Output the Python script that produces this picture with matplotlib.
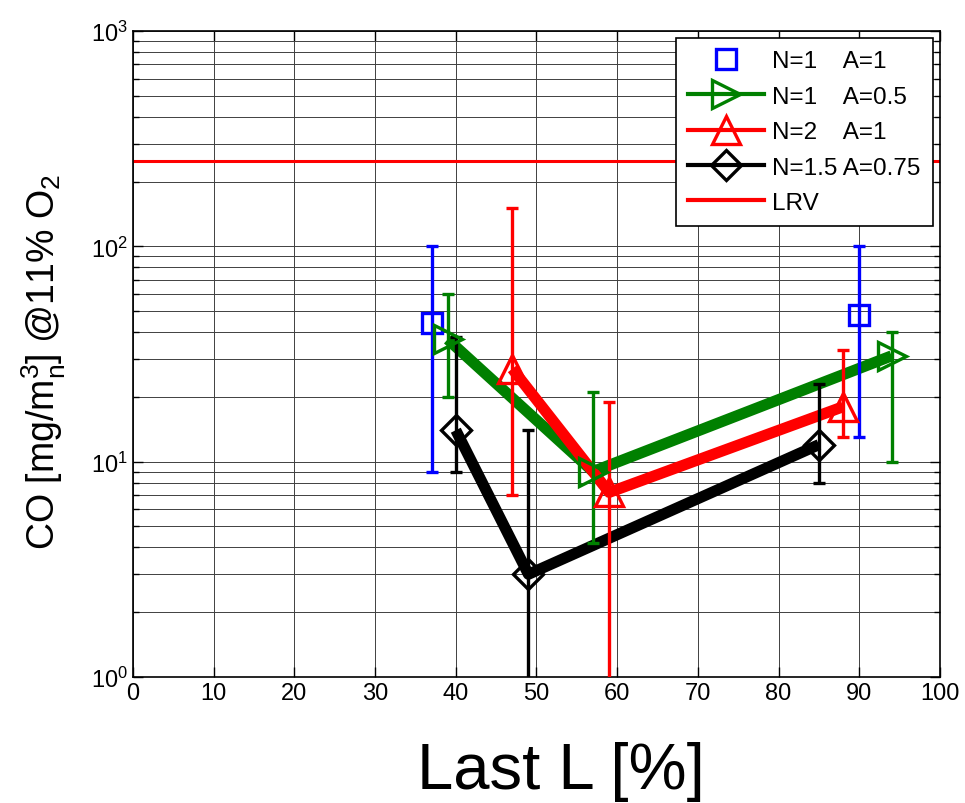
import matplotlib
matplotlib.use('Agg')
import matplotlib.pyplot as plt
from matplotlib.lines import Line2D
from matplotlib.ticker import LogLocator, NullFormatter

plt.rcParams['font.family'] = ['Liberation Sans', 'DejaVu Sans']
plt.rcParams['mathtext.fontset'] = 'custom'
plt.rcParams['mathtext.rm'] = 'Liberation Sans'
plt.rcParams['mathtext.it'] = 'Liberation Sans:italic'

# Messwerte: Last [%], CO-Mittelwert, untere/obere Grenze
n1a1_x = [37, 90]
n1a1_y = [44, 48]
n1a1_lo = [9, 13]
n1a1_hi = [100, 100]

n1a05_x = [39, 57, 94]
n1a05_y = [37, 9, 31]
n1a05_lo = [20, 4.2, 10]
n1a05_hi = [60, 21, 40]

n2a1_x = [47, 59, 88]
n2a1_y = [27, 7.2, 18]
n2a1_lo = [7, 0.5, 13]
n2a1_hi = [150, 19, 33]

n15a075_x = [40, 49, 85]
n15a075_y = [14, 3, 12]
n15a075_lo = [9, 0.5, 8]
n15a075_hi = [38, 14, 23]

lrv = 250
x_ticks = [0, 10, 20, 30, 40, 50, 60, 70, 80, 90, 100]

fig = plt.figure(figsize=(9.65, 8.04), dpi=100)
ax = fig.add_axes([0.1378, 0.1567, 0.8363, 0.8035])
ax.set_yscale('log')

def reihe(x, y, lo, hi, farbe, marker, ms, linie=True):
    if linie:
        ax.plot(x, y, '-', color=farbe, lw=8, zorder=3, solid_capstyle='butt')
    err = [[yy - l for yy, l in zip(y, lo)], [h - yy for yy, h in zip(y, hi)]]
    ax.errorbar(x, y, yerr=err, fmt='none', ecolor=farbe, elinewidth=2.4,
                capsize=4, capthick=2.4, zorder=4)
    ax.plot(x, y, linestyle='none', marker=marker, ms=ms, mfc='none',
            mec=farbe, mew=2.4, zorder=5)

reihe(n1a1_x, n1a1_y, n1a1_lo, n1a1_hi, 'blue', 's', 14, linie=False)
reihe(n1a05_x, n1a05_y, n1a05_lo, n1a05_hi, 'green', '>', 20)
reihe(n2a1_x, n2a1_y, n2a1_lo, n2a1_hi, 'red', '^', 20)
reihe(n15a075_x, n15a075_y, n15a075_lo, n15a075_hi, 'black', 'D', 15)
ax.axhline(lrv, color='red', lw=2.2, zorder=2)

ax.set_xlim(0, 100)
ax.set_ylim(1, 1000)
ax.set_xticks(x_ticks)
ax.yaxis.set_minor_locator(LogLocator(base=10, subs=range(2, 10)))
ax.yaxis.set_minor_formatter(NullFormatter())
ax.grid(True, which='major', color='0.25', lw=0.7)
ax.grid(True, which='minor', axis='y', color='0.25', lw=0.7)
ax.set_axisbelow(True)
ax.tick_params(which='both', direction='in', top=True, right=True, labelsize=17)
ax.tick_params(which='major', length=7, width=1)
ax.tick_params(which='minor', length=4, width=1)
for s in ax.spines.values():
    s.set_linewidth(1.2)

ax.set_xlabel('Last L [%]', fontsize=47)
ax.xaxis.set_label_coords(0.530, -0.099)
ax.set_ylabel(r'CO [mg/m$_\mathregular{n}^\mathregular{3}$] @11% O$_\mathregular{2}$',
              fontsize=27)
ax.yaxis.set_label_coords(-0.080, 0.489)

griffe = [
    Line2D([], [], ls='none', marker='s', ms=14, mfc='none', mec='blue', mew=2.4),
    Line2D([], [], color='green', lw=3, marker='>', ms=20, mfc='none', mec='green', mew=2.4),
    Line2D([], [], color='red', lw=3, marker='^', ms=20, mfc='none', mec='red', mew=2.4),
    Line2D([], [], color='black', lw=3, marker='D', ms=15, mfc='none', mec='black', mew=2.4),
    Line2D([], [], color='red', lw=3),
]
namen = ['N=1    A=1', 'N=1    A=0.5', 'N=2    A=1', 'N=1.5 A=0.75', 'LRV']
leg = ax.legend(griffe, namen, loc='upper right', fontsize=17.5, fancybox=False,
                framealpha=1, edgecolor='black', borderaxespad=0.3,
                handlelength=3.1, handletextpad=0.35, labelspacing=0.55,
                borderpad=0.5)
leg.get_frame().set_linewidth(1.2)
leg.set_zorder(10)

fig.savefig('out.png', dpi=100)
